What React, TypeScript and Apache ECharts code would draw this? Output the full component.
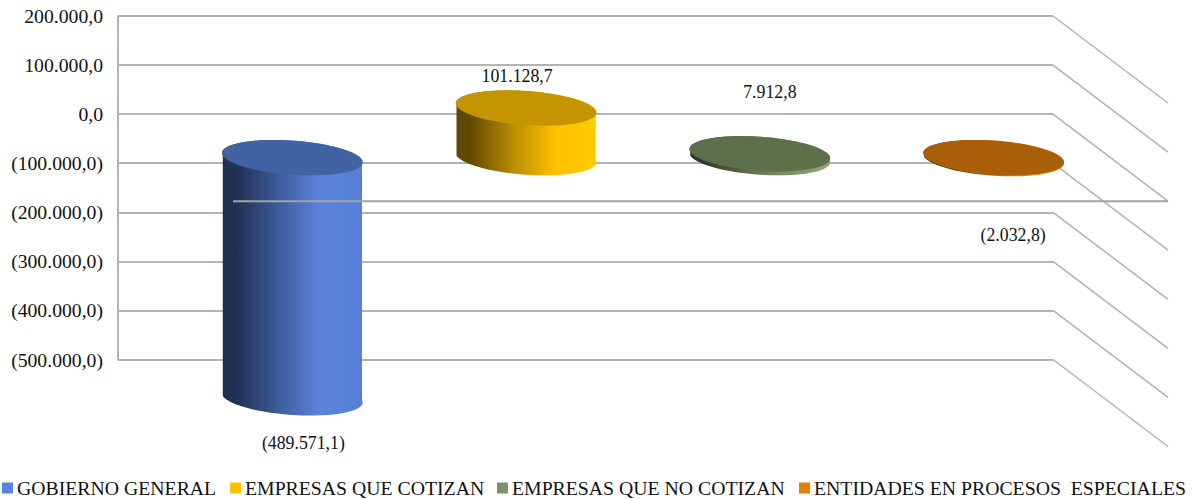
import React, { useEffect, useRef } from "react";
import * as echarts from "echarts";

const categories = ["GOBIERNO GENERAL", "EMPRESAS QUE COTIZAN", "EMPRESAS QUE NO COTIZAN", "ENTIDADES EN PROCESOS  ESPECIALES"];
const values = [-489571.1, 101128.7, 7912.8, -2032.8];
const yTicks = [200000, 100000, 0, -100000, -200000, -300000, -400000, -500000];
const legendColors = ["#5b83dc", "#ffc000", "#7c9463", "#e07f0c"];
const topColors = ["#4263a3", "#c49500", "#5e7049", "#a85f08"];
const sideStops = [
  ["#212f52", "#3f5f9f", "#5b83dc", "#5580d4"],
  ["#614800", "#bd8f00", "#ffc000", "#ffcb00"],
  ["#2f3826", "#5e7049", "#7c9463", "#8aa66f"],
  ["#5a3305", "#a85f08", "#e07f0c", "#e07f0c"],
];
const legendLefts = [2, 230, 497, 799];
const labelOffsetsX = [11, -9, 10, 19.5];
const labelYs = [443, 76, 92, 235];

const FONT = "'Liberation Serif', 'Times New Roman', serif";
const DEPTH_X = 115;
const DEPTH_Y = 87;
const RX = 70.5;
const RY = 17;
const TILT = (4 * Math.PI) / 180;
const GRID = "#b3b3b3";

const fmt = (v: number) => {
  const s = Math.abs(v).toFixed(1).split(".");
  const t = s[0].replace(/\B(?=(\d{3})+(?!\d))/g, ".") + "," + s[1];
  return v < 0 ? `(${t})` : t;
};

function ellipsePoint(cx: number, cy: number, t: number) {
  const c = Math.cos(t), s = Math.sin(t);
  return [
    cx + RX * c * Math.cos(TILT) - RY * s * Math.sin(TILT),
    cy + RX * c * Math.sin(TILT) + RY * s * Math.cos(TILT),
  ];
}

function cylinder(index: number) {
  return (params: any, api: any) => {
    const base = api.coord([index, 0]);
    const top = api.coord([index, api.value(1)]);
    const x = base[0] + DEPTH_X / 2;
    const y0 = base[1] + DEPTH_Y / 2;
    const y1 = top[1] + DEPTH_Y / 2;
    const upper = Math.min(y0, y1);
    const lower = Math.max(y0, y1);
    const t0 = -0.16;
    const pts: number[][] = [];
    for (let i = 0; i <= 48; i++) pts.push(ellipsePoint(x, lower, t0 + (Math.PI * i) / 48));
    for (let i = 0; i <= 48; i++) pts.push(ellipsePoint(x, upper, t0 + Math.PI + (Math.PI * i) / 48));
    const topPts: number[][] = [];
    for (let i = 0; i < 96; i++) topPts.push(ellipsePoint(x, upper, (2 * Math.PI * i) / 96));
    const stops = sideStops[index];
    const grad = new echarts.graphic.LinearGradient(
      x - RX, 0, x + RX, 0,
      [
        { offset: 0, color: stops[0] },
        { offset: 0.1, color: stops[0] },
        { offset: 0.42, color: stops[1] },
        { offset: 0.7, color: stops[2] },
        { offset: 1, color: stops[3] },
      ],
      true
    );
    return {
      type: "group",
      children: [
        { type: "polygon", shape: { points: pts }, style: { fill: grad } },
        { type: "polygon", shape: { points: topPts }, style: { fill: topColors[index] } },
        {
          type: "text",
          style: {
            text: fmt(api.value(1)),
            x: x + labelOffsetsX[index],
            y: labelYs[index],
            align: "center",
            verticalAlign: "middle",
            font: `17.8px ${FONT}`,
            fill: "#111",
          },
        },
      ],
    };
  };
}

export default function App() {
  const ref = useRef<HTMLDivElement>(null);
  useEffect(() => {
    const chart = echarts.init(ref.current!, null, { renderer: "svg" });
    chart.setOption({
      animation: false,
      backgroundColor: "#fff",
      textStyle: { fontFamily: FONT },
      legend: categories.map((c, i) => ({
        data: [c],
        left: legendLefts[i],
        top: 478,
        padding: 0,
        itemWidth: 11,
        itemHeight: 11,
        itemGap: 0,
        icon: "rect",
        selectedMode: false,
        textStyle: { fontFamily: FONT, fontSize: 19.75, color: "#111", padding: [2, 0, 0, -1] },
      })),
      grid: { left: 118, top: 16, width: 935, height: 343.5 },
      xAxis: {
        type: "category",
        data: categories,
        axisLine: { show: false },
        axisTick: { show: false },
        axisLabel: { show: false },
        splitLine: { show: false },
      },
      yAxis: {
        type: "value",
        min: -500000,
        max: 200000,
        interval: 100000,
        axisLine: { show: true, lineStyle: { color: GRID, width: 2 } },
        axisTick: { show: false },
        axisLabel: {
          margin: 15,
          fontFamily: FONT,
          fontSize: 19.7,
          color: "#111",
          padding: [5, 0, 0, 0],
          formatter: (v: number) => fmt(v),
        },
        splitLine: { show: true, lineStyle: { color: GRID, width: 2 } },
      },
      series: [
        {
          type: "custom",
          name: "diagonals",
          silent: true,
          z: 1,
          data: yTicks.map((t) => [3.5, t]),
          renderItem: (p: any, api: any) => {
            const a = api.coord([0, api.value(1)]);
            const x0 = 118 + 935;
            return {
              type: "line",
              shape: { x1: x0, y1: a[1], x2: x0 + DEPTH_X, y2: a[1] + DEPTH_Y },
              style: { stroke: GRID, lineWidth: 1.5 },
            };
          },
        },
        ...categories.map((c, i) => ({
          type: "custom",
          name: c,
          z: 3,
          color: legendColors[i],
          itemStyle: { color: legendColors[i] },
          data: [[i, values[i]]],
          renderItem: cylinder(i),
        })),
        {
          type: "custom",
          name: "floor",
          silent: true,
          z: 4,
          data: [[0, 0]],
          renderItem: (p: any, api: any) => {
            const a = api.coord([0, 0]);
            return {
              type: "line",
              shape: { x1: 118 + DEPTH_X, y1: a[1] + DEPTH_Y, x2: 118 + 935 + DEPTH_X, y2: a[1] + DEPTH_Y },
              style: { stroke: "#a3a3a3", lineWidth: 2 },
            };
          },
        },
      ],
    });
    return () => chart.dispose();
  }, []);
  return <div ref={ref} style={{ position: "fixed", left: 0, top: 0, width: 1192, height: 499 }} />;
}
